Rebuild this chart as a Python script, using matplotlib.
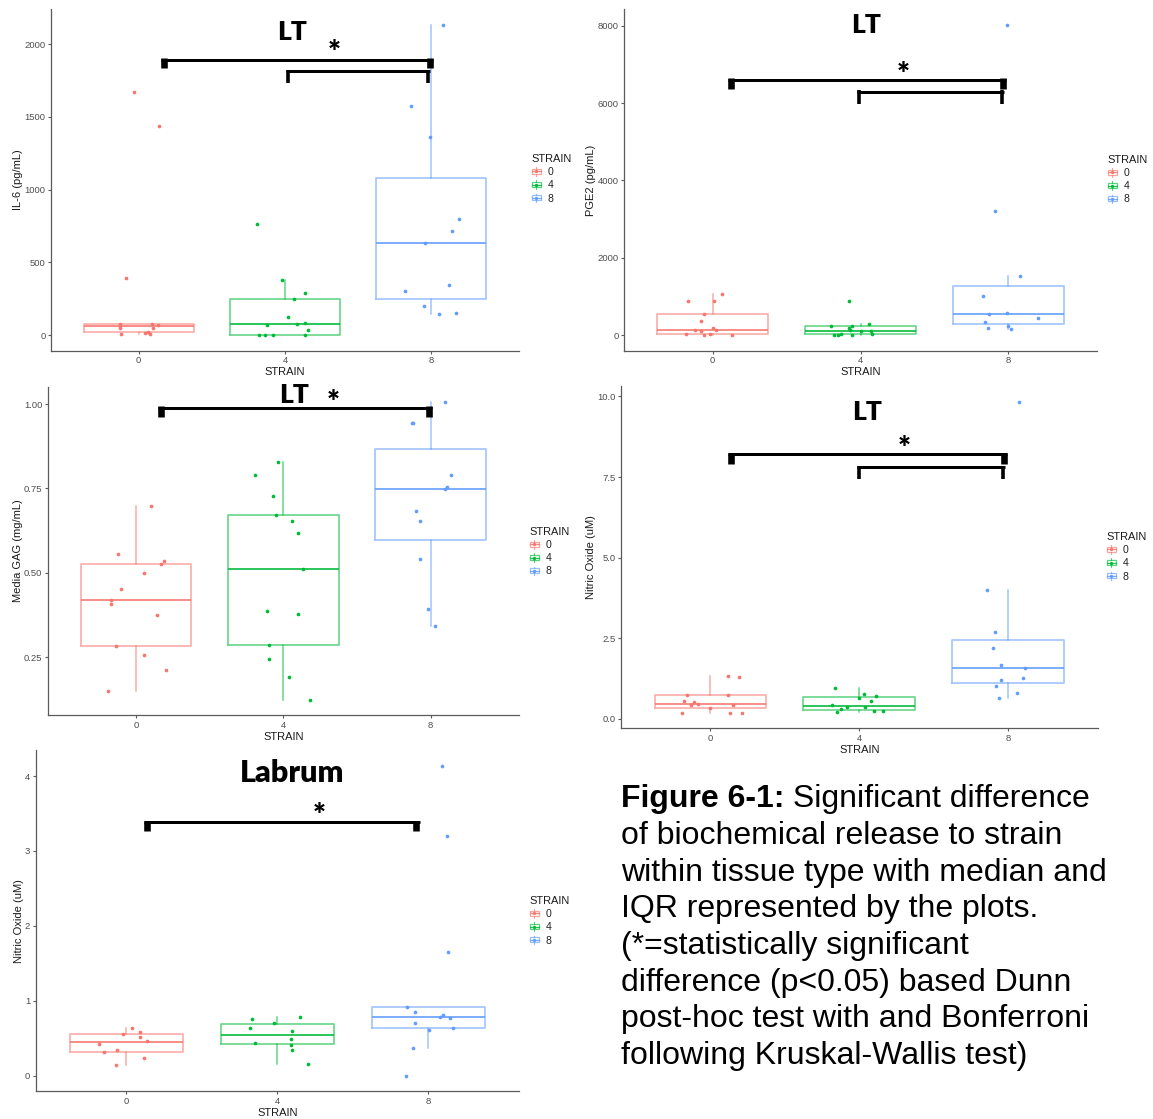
import numpy as np
import matplotlib
matplotlib.use("Agg")
import matplotlib.pyplot as plt
from matplotlib.lines import Line2D
from matplotlib.patches import Rectangle
from matplotlib.legend_handler import HandlerBase

# ---------------------------------------------------------------- data
STRAIN_LEVELS = ["0", "4", "8"]

# IL-6 (pg/mL), LT
il6_0 = [1669, 1438, 391, 75, 61, 50, 8, 77, 73, 50, 23, 12, 10]
il6_4 = [764, 377, 292, 246, 124, 69, 76, 83, 35, 0, 0, 0, 0]
il6_8 = [2133, 1577, 1365, 801, 713, 631, 343, 304, 200, 145, 150]
il6_jit_0 = [-0.03, 0.14, -0.09, -0.13, -0.13, -0.13, -0.12, 0.09, 0.13, 0.10, 0.06, 0.04, 0.08]
il6_jit_4 = [-0.19, -0.02, 0.14, 0.06, 0.02, -0.12, 0.08, 0.14, 0.16, -0.18, -0.14, -0.08, 0.14]
il6_jit_8 = [0.08, -0.14, -0.01, 0.19, 0.14, -0.04, 0.12, -0.18, -0.05, 0.05, 0.17]

# PGE2 (pg/mL), LT
pge2_0 = [1075, 875, 875, 550, 380, 200, 140, 120, 30, 15, 10, 150, 25]
pge2_4 = [875, 250, 290, 230, 190, 140, 120, 5, 40, 5, 5, 25, 110]
pge2_8 = [8017, 3207, 1543, 1014, 589, 563, 451, 347, 199, 243, 173]
pge2_jit_0 = [0.06, -0.17, 0.01, -0.06, -0.08, 0.0, -0.12, -0.08, -0.18, -0.06, 0.13, 0.02, -0.02]
pge2_jit_4 = [-0.08, -0.20, 0.06, -0.06, -0.08, -0.07, 0.07, -0.06, 0.08, -0.18, -0.15, -0.13, 0.0]
pge2_jit_8 = [-0.01, -0.09, 0.08, -0.17, -0.01, -0.13, 0.20, -0.16, -0.14, 0.0, 0.02]

# Media GAG (mg/mL), LT
gag_0 = [0.698, 0.556, 0.536, 0.525, 0.500, 0.453, 0.419, 0.409, 0.376, 0.283, 0.257, 0.212, 0.151]
gag_4 = [0.828, 0.791, 0.729, 0.670, 0.654, 0.617, 0.512, 0.386, 0.379, 0.286, 0.244, 0.191, 0.123]
gag_8 = [1.007, 0.944, 0.945, 0.789, 0.754, 0.747, 0.684, 0.655, 0.542, 0.394, 0.342]
gag_jit_0 = [0.10, -0.12, 0.19, 0.17, 0.05, -0.10, -0.17, -0.17, 0.14, -0.14, 0.05, 0.20, -0.19]
gag_jit_4 = [-0.04, -0.19, -0.07, -0.05, 0.06, 0.10, 0.13, -0.11, 0.10, -0.10, -0.10, 0.04, 0.18]
gag_jit_8 = [0.10, -0.12, -0.13, 0.14, 0.11, 0.10, -0.10, -0.07, -0.07, -0.02, 0.03]

# Nitric oxide (uM), LT
no_lt_0 = [1.315, 1.284, 0.731, 0.731, 0.553, 0.522, 0.470, 0.418, 0.428, 0.334, 0.188, 0.188, 0.188]
no_lt_4 = [0.95, 0.78, 0.70, 0.56, 0.44, 0.36, 0.38, 0.30, 0.22, 0.25, 0.25, 0.66]
no_lt_8 = [9.84, 4.0, 2.68, 2.21, 1.67, 1.57, 1.21, 1.26, 1.02, 0.79, 0.66]
no_lt_jit_0 = [0.12, 0.19, -0.16, 0.12, -0.18, -0.11, -0.08, -0.13, 0.15, 0.0, -0.19, 0.13, 0.21]
no_lt_jit_4 = [-0.16, 0.03, 0.11, 0.08, -0.18, 0.04, -0.08, -0.12, -0.15, 0.10, 0.16, 0.0]
no_lt_jit_8 = [0.07, -0.14, -0.09, -0.10, -0.05, 0.11, -0.05, 0.10, -0.08, 0.06, -0.06]

# Nitric oxide (uM), Labrum
no_lab_0 = [0.636, 0.564, 0.587, 0.515, 0.470, 0.421, 0.349, 0.314, 0.233, 0.148]
no_lab_4 = [0.779, 0.761, 0.703, 0.640, 0.600, 0.488, 0.443, 0.417, 0.349, 0.157]
no_lab_8 = [4.14, 3.20, 1.65, 0.914, 0.847, 0.815, 0.784, 0.770, 0.708, 0.609, 0.641, 0.372, 0.0]
no_lab_jit_0 = [0.04, -0.02, 0.09, 0.09, 0.14, -0.18, -0.06, -0.15, 0.12, -0.07]
no_lab_jit_4 = [0.15, -0.17, -0.02, -0.18, 0.10, 0.09, -0.15, 0.09, 0.10, 0.20]
no_lab_jit_8 = [0.09, 0.12, 0.13, -0.14, -0.09, 0.10, 0.08, 0.14, -0.09, 0.005, 0.16, -0.10, -0.15]

CAPTION_LINES = [
    "of biochemical release to strain",
    "within tissue type with median and",
    "IQR represented by the plots.",
    "(*=statistically significant",
    "difference (p<0.05) based Dunn",
    "post-hoc test with and Bonferroni",
    "following Kruskal-Wallis test)",
]

# ---------------------------------------------------------------- style
COLORS = ["#F8766D", "#00BA38", "#619CFF"]
AXIS_GREY = "#5a5a5a"
TICK_GREY = "#4D4D4D"
SANS = "Liberation Sans"
HEAD = "Lato"

W, H = 1153, 1119
fig = plt.figure(figsize=(W / 100, H / 100), dpi=100)
plt.rcParams["font.family"] = SANS


def px_axes(l, t, r, b):
    return fig.add_axes([l / W, 1 - b / H, (r - l) / W, (b - t) / H])


class BoxKeyHandler(HandlerBase):
    """Legend key: a small boxplot glyph with the point drawn on it."""

    def create_artists(self, legend, orig_handle, xdescent, ydescent,
                       width, height, fontsize, trans):
        c = orig_handle.get_color()
        x0, y0, w, h = -xdescent, -ydescent, width, height
        box = Rectangle((x0 + 0.08 * w, y0 + 0.2 * h), 0.84 * w, 0.6 * h,
                        fill=False, ec=c, lw=0.9, alpha=0.65, transform=trans)
        med = Line2D([x0 + 0.08 * w, x0 + 0.92 * w], [y0 + 0.5 * h] * 2,
                     color=c, lw=0.9, alpha=0.85, transform=trans)
        wl = Line2D([x0 + 0.5 * w] * 2, [y0 - 0.05 * h, y0 + 0.2 * h], color=c,
                    lw=0.8, alpha=0.65, transform=trans)
        wu = Line2D([x0 + 0.5 * w] * 2, [y0 + 0.8 * h, y0 + 1.05 * h], color=c,
                    lw=0.8, alpha=0.65, transform=trans)
        dot = Line2D([x0 + 0.5 * w], [y0 + 0.5 * h], marker="o", ms=2.4,
                     mew=0, color=c, transform=trans)
        return [box, med, wl, wu, dot]


def px_to_data(ax, dx_px, dy_px):
    bb = ax.get_window_extent()
    xa, xb = ax.get_xlim()
    ya, yb = ax.get_ylim()
    return dx_px * (xb - xa) / bb.width, dy_px * (yb - ya) / bb.height


def bracket(ax, x0, x1, y_bar, y_end, heavy):
    bar_px = 3.0
    end_px = 6.6 if heavy else 3.6
    hx, hy = px_to_data(ax, end_px / 2, bar_px / 2)
    ax.plot([x0 - hx, x1 + hx], [y_bar, y_bar], color="black",
            lw=bar_px * 0.72, solid_capstyle="butt", clip_on=False, zorder=5)
    for x in (x0, x1):
        ax.plot([x, x], [y_bar + hy, y_end], color="black", lw=end_px * 0.72,
                solid_capstyle="butt", clip_on=False, zorder=5)


def centred_glyph(ax, x, y, s, size, rise):
    """Place text so that the visible glyph (not the line box) is centred on (x, y).
    `rise` is the height of the glyph centre above the baseline, in em."""
    ax.annotate(s, xy=(x, y), xytext=(0, -rise * size), textcoords="offset points",
                ha="center", va="baseline", family=HEAD, fontweight="heavy",
                fontsize=size, annotation_clip=False)


def draw_panel(spec):
    ax = px_axes(*spec["rect"])
    groups, jits = spec["groups"], spec["jit"]
    for i, (vals, jit, c) in enumerate(zip(groups, jits, COLORS)):
        pos = i + 1
        ax.boxplot([vals], positions=[pos], widths=0.75, whis=1.5,
                   showfliers=False, showcaps=False,
                   boxprops=dict(color=c, lw=1.2, alpha=0.6),
                   whiskerprops=dict(color=c, lw=1.1, alpha=0.6),
                   medianprops=dict(color=c, lw=1.3, alpha=0.9))
        ax.scatter(pos + np.asarray(jit), vals, s=7, color=c, lw=0, zorder=3)

    allv = np.concatenate([np.asarray(g, float) for g in groups])
    lo, hi = allv.min(), allv.max()
    pad = 0.05 * (hi - lo)
    ax.set_ylim(lo - pad, hi + pad)
    ax.set_xlim(0.4, 3.6)
    ax.set_xticks([1, 2, 3], STRAIN_LEVELS)
    ax.set_yticks(spec["yticks"], [spec["fmt"].format(t) for t in spec["yticks"]])

    for s in ("top", "right"):
        ax.spines[s].set_visible(False)
    for s in ("left", "bottom"):
        ax.spines[s].set_color(AXIS_GREY)
        ax.spines[s].set_linewidth(0.9)
    ax.tick_params(length=2.5, width=0.8, color=AXIS_GREY, labelsize=6.8,
                   labelcolor=TICK_GREY, pad=1.5)
    ax.set_xlabel("STRAIN", fontsize=8, labelpad=1.5, color="#1a1a1a")
    ax.set_ylabel(spec["ylabel"], fontsize=8, labelpad=0.8, color="#1a1a1a")

    for b in spec["brackets"]:
        bracket(ax, *b)
    tx, ty = spec["title_xy"]
    centred_glyph(ax, tx, ty, spec["title"], spec["title_size"], 0.36)
    sx, sy = spec["star_xy"]
    centred_glyph(ax, sx, sy, "*", 22, 0.56)

    handles = [Line2D([], [], color=c) for c in COLORS]
    lx, ly = spec["legend_xy"]
    leg = ax.legend(handles, STRAIN_LEVELS, handler_map={Line2D: BoxKeyHandler()},
                    title="STRAIN", loc="upper left",
                    bbox_to_anchor=(lx / W, 1 - ly / H), bbox_transform=fig.transFigure,
                    frameon=False, fontsize=7.6, title_fontsize=7.9,
                    handlelength=1.0, handleheight=0.75, labelspacing=0.3,
                    handletextpad=0.6, borderpad=0, borderaxespad=0,
                    alignment="left")
    for t in leg.get_texts():
        t.set_color("#222222")
    leg.get_title().set_color("#1a1a1a")
    return ax


panels = [
    dict(rect=(51, 9.4, 519, 350.7), groups=(il6_0, il6_4, il6_8),
         jit=(il6_jit_0, il6_jit_4, il6_jit_8), ylabel="IL-6 (pg/mL)",
         yticks=[0, 500, 1000, 1500, 2000], fmt="{:.0f}",
         title="LT", title_size=19, title_xy=(2.05, 2096), star_xy=(2.34, 1993),
         brackets=[(1.174, 2.99, 1894, 1837, True), (2.02, 2.98, 1814, 1733, False)],
         legend_xy=(531, 154)),
    dict(rect=(624, 9.4, 1097, 350.7), groups=(pge2_0, pge2_4, pge2_8),
         jit=(pge2_jit_0, pge2_jit_4, pge2_jit_8), ylabel="PGE2 (pg/mL)",
         yticks=[0, 2000, 4000, 6000, 8000], fmt="{:.0f}",
         title="LT", title_size=19, title_xy=(2.04, 8045), star_xy=(2.29, 6946),
         brackets=[(1.125, 2.965, 6606, 6370, True), (1.99, 2.96, 6293, 5965, False)],
         legend_xy=(1107, 155)),
    dict(rect=(47.8, 386.8, 519, 715), groups=(gag_0, gag_4, gag_8),
         jit=(gag_jit_0, gag_jit_4, gag_jit_8), ylabel="Media GAG (mg/mL)",
         yticks=[0.25, 0.50, 0.75, 1.00], fmt="{:.2f}",
         title="LT", title_size=19, title_xy=(2.07, 1.032), star_xy=(2.34, 1.027),
         brackets=[(1.17, 2.99, 0.989, 0.962, True)],
         legend_xy=(529, 527)),
    dict(rect=(621, 386, 1097.6, 728.3), groups=(no_lt_0, no_lt_4, no_lt_8),
         jit=(no_lt_jit_0, no_lt_jit_4, no_lt_jit_8), ylabel="Nitric Oxide (uM)",
         yticks=[0.0, 2.5, 5.0, 7.5, 10.0], fmt="{:.1f}",
         title="LT", title_size=19, title_xy=(2.05, 9.56), star_xy=(2.30, 8.62),
         brackets=[(1.14, 2.97, 8.20, 7.91, True), (2.0, 2.965, 7.80, 7.44, False)],
         legend_xy=(1106, 532)),
    dict(rect=(35.7, 750, 519, 1091.3), groups=(no_lab_0, no_lab_4, no_lab_8),
         jit=(no_lab_jit_0, no_lab_jit_4, no_lab_jit_8), ylabel="Nitric Oxide (uM)",
         yticks=[0, 1, 2, 3, 4], fmt="{:.0f}",
         title="Labrum", title_size=22, title_xy=(2.10, 4.07), star_xy=(2.28, 3.57),
         brackets=[(1.14, 2.92, 3.386, 3.27, True)],
         legend_xy=(529, 896)),
]

for spec in panels:
    draw_panel(spec)

# ---------------------------------------------------------------- caption
CAP_X, CAP_Y0, CAP_STEP, CAP_SIZE = 621, 807.5, 36.6, 23
head = fig.text(CAP_X / W, 1 - CAP_Y0 / H, "Figure 6-1:", fontsize=CAP_SIZE,
                fontweight="bold", va="baseline", ha="left", color="black")
plt.annotate(" Significant difference", xy=(1, 0), xycoords=head, va="bottom",
             ha="left", fontsize=CAP_SIZE, color="black", annotation_clip=False)
for k, line in enumerate(CAPTION_LINES, start=1):
    fig.text(CAP_X / W, 1 - (CAP_Y0 + k * CAP_STEP) / H, line, fontsize=CAP_SIZE,
             va="baseline", ha="left", color="black")

fig.savefig("out.png", dpi=100, facecolor="white")
